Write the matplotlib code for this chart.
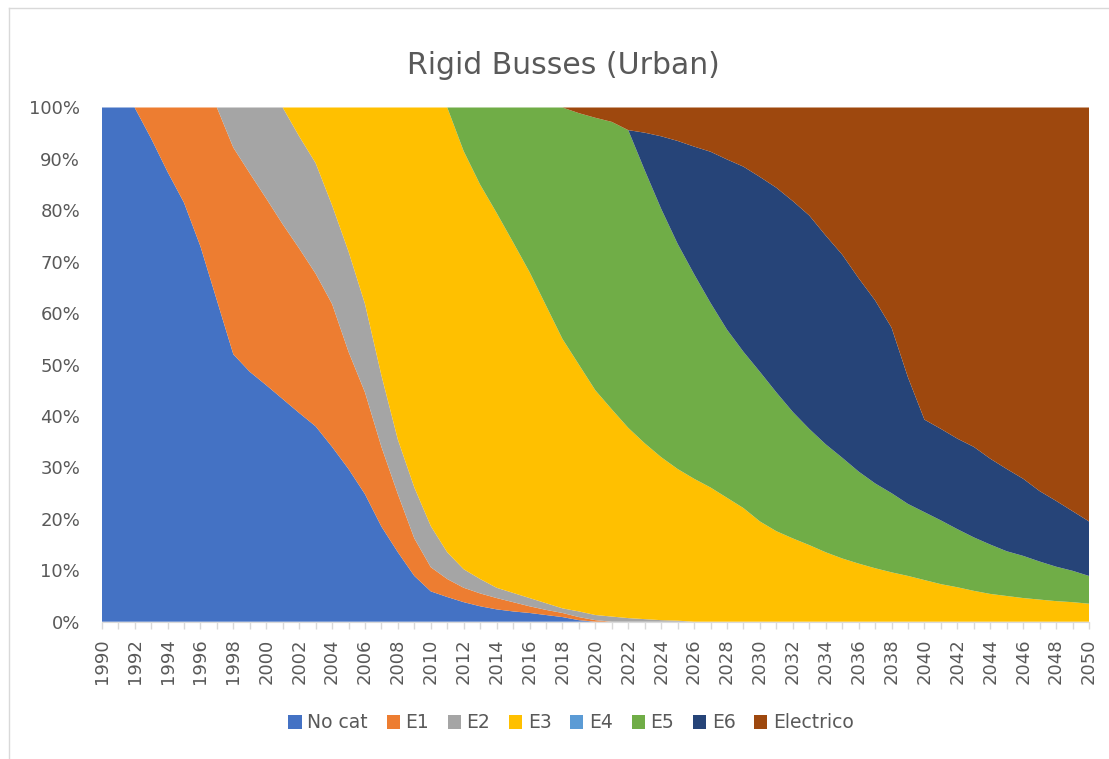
import numpy as np
import matplotlib
matplotlib.use('Agg')
import matplotlib.pyplot as plt
from matplotlib.ticker import MultipleLocator, PercentFormatter
from matplotlib.lines import Line2D

# share of the fleet (%) per emission class
years = list(range(1990, 2051))

no_cat = [100, 100, 100, 94, 87.5, 81.5, 73, 62.5, 52, 48.6,
          46, 43.3, 40.6, 38, 34, 29.7, 24.8, 18.5, 13.5, 8.9,
          5.9, 4.8, 3.8, 3, 2.4, 2, 1.7, 1.3, 0.9, 0.3] + [0] * 31

e1 = [0, 0, 0, 6, 12.5, 18.5, 27, 37.5, 40.2, 38.6,
      36.3, 34, 32, 29.7, 27.8, 22.8, 19.8, 15.5, 11.3, 7.3,
      4.7, 3.5, 2.8, 2.5, 2.2, 1.8, 1.3, 1.0, 0.8, 0.6,
      0.3] + [0] * 30

e2 = [0] * 8 + [7.8, 12.8,
                17.7, 22.7, 21.8, 21.5, 19.2, 19.5, 17.2, 13.9, 10.6, 9.9,
                8.0, 5.2, 3.6, 2.8, 2.0, 1.8, 1.6, 1.3, 0.9, 1.1,
                1.0, 1.0, 0.7, 0.5, 0.3, 0.2] + [0] * 25

e3 = [0] * 12 + [5.6, 10.8, 19, 28, 38.2, 52.1, 64.6, 73.9,
                 81.4, 86.5, 81.3, 76.7, 72.9, 68.2, 63.4, 57.9, 52.4, 48,
                 43.7, 40.3, 37, 34.2, 31.7, 29.5, 27.8, 26.1, 24.1, 22.1,
                 19.5, 17.6, 16.2, 14.9, 13.5, 12.3, 11.3, 10.4, 9.6, 8.9,
                 8.1, 7.3, 6.7, 6, 5.4, 5, 4.6, 4.3, 4, 3.8,
                 3.5]

e4 = [0] * 61

e5 = [0] * 22 + [8.5, 15, 20.5, 26.2, 32, 38.5, 45, 48.9,
                 53, 55.9, 57.9, 53.1, 48.3, 43.8, 39.8, 35.9, 32.7, 30.4,
                 29.1, 27, 24.6, 22.6, 21, 19.6, 17.9, 16.5, 15.4, 14,
                 13.2, 12.4, 11.3, 10.4, 9.6, 8.7, 8.2, 7.4, 6.7, 6.1,
                 5.4]

e6 = [0] * 33 + [7.3, 14.1, 20, 24.8, 29.4, 33.1, 36,
                 37.9, 39.8, 41, 41.5, 40.6, 39.5, 37.6, 35.6, 32.2, 24.6,
                 18, 17.8, 17.6, 17.6, 16.7, 16, 15, 13.7, 12.8, 11.6,
                 10.6]

electrico = [0] * 29 + [1.1,
                        2, 2.8, 4.4, 4.9, 5.6, 6.5, 7.6, 8.6, 10.1, 11.5,
                        13.5, 15.6, 18.2, 21, 24.9, 28.6, 33.2, 37.5, 42.8, 52.5,
                        60.7, 62.5, 64.4, 66, 68.3, 70.3, 72.2, 74.6, 76.5, 78.5,
                        80.5]

labels = ['No cat', 'E1', 'E2', 'E3', 'E4', 'E5', 'E6', 'Electrico']
colors = ['#4472C4', '#ED7D31', '#A5A5A5', '#FFC000', '#5B9BD5',
          '#70AD47', '#264478', '#9E480E']
text_color = '#595959'
line_color = '#D9D9D9'

plt.rcParams['font.family'] = ['DejaVu Sans']

series = np.array([no_cat, e1, e2, e3, e4, e5, e6, electrico], dtype=float)
series = series / series.sum(axis=0) * 100  # 100% stacked, like the excel chart

W, H = 1109, 759
fig = plt.figure(figsize=(W / 100, H / 100), dpi=100)
# plot area in pixels: left 101.7, right 1089, top 107.5, bottom 621.7
ax = fig.add_axes([101.7 / W, 1 - 621.7 / H, (1089 - 101.7) / W, (621.7 - 107.5) / H])

ax.stackplot(years, series, colors=colors, labels=labels, linewidth=0)

ax.set_xlim(1990, 2050)
ax.set_ylim(0, 100)

ax.xaxis.set_major_locator(MultipleLocator(2))
ax.xaxis.set_minor_locator(MultipleLocator(1))
ax.yaxis.set_major_locator(MultipleLocator(10))
ax.yaxis.set_major_formatter(PercentFormatter(decimals=0))

ax.tick_params(axis='x', which='both', length=5, color=line_color, width=1,
               labelrotation=90, labelsize=13, labelcolor=text_color, pad=7)
ax.tick_params(axis='y', length=0, labelsize=13, labelcolor=text_color, pad=15.5)

for side in ['top', 'right', 'left']:
    ax.spines[side].set_visible(False)
ax.spines['bottom'].set_color(line_color)
ax.spines['bottom'].set_zorder(5)

fig.text(563 / W, 1 - 66 / H, 'Rigid Busses (Urban)', ha='center', va='center',
         fontsize=21.5, color=text_color)

leg = fig.legend(loc='center', bbox_to_anchor=(571 / W, 1 - 723 / H), ncol=8,
                 frameon=False, fontsize=13.5, handlelength=0.7, handleheight=0.7,
                 handletextpad=0.3, columnspacing=1.0)
for t in leg.get_texts():
    t.set_color(text_color)

# chart area border (only left and top edges show in the picture)
fig.add_artist(Line2D([8.5 / W, 8.5 / W], [0, 1 - 8 / H],
                      transform=fig.transFigure, color=line_color, lw=1))
fig.add_artist(Line2D([8.5 / W, 1], [1 - 8 / H, 1 - 8 / H],
                      transform=fig.transFigure, color=line_color, lw=1))

fig.savefig('out.png', dpi=100, facecolor='white')
